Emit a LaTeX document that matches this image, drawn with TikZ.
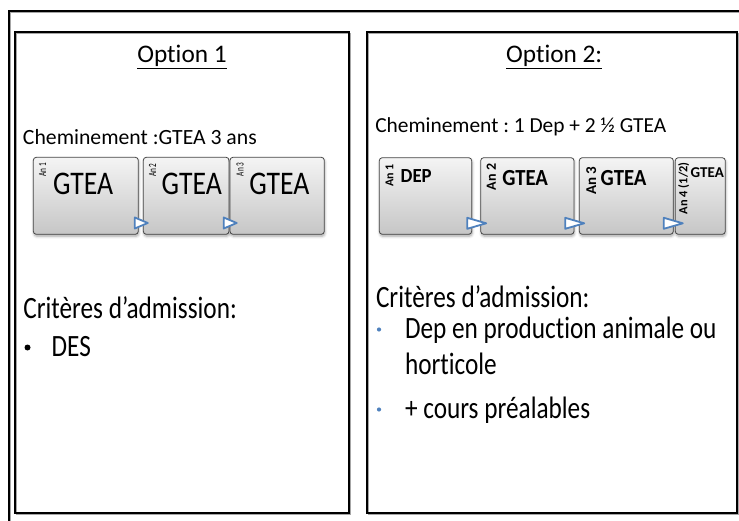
\documentclass[tikz,border=0pt]{standalone}
\usepackage{fontspec}
\setmainfont{Carlito}[Ligatures={NoCommon}]
\usepackage{graphicx}
\usetikzlibrary{shadows.blur}
\frenchspacing
\newcommand\fsz[1]{\fontsize{#1pt}{#1pt}\selectfont}
\newcommand\hsq[2]{\scalebox{#1}[1]{#2}}
\definecolor{triblue}{RGB}{79,129,189}
\definecolor{boxline}{RGB}{70,70,70}
\definecolor{boxtop}{RGB}{244,244,244}
\definecolor{boxbot}{RGB}{198,198,198}
\begin{document}
\frenchspacing
\begin{tikzpicture}[x=1pt,y=-1pt,
  txt/.style={inner sep=0pt, outer sep=0pt, text=black},
  panel/.style={draw=black, line width=1.8pt, inner sep=0pt, outer sep=0pt},
  panelshadow/.style={draw=black!35, line width=1.4pt},
  gbox/.style={draw=boxline, line width=0.8pt, rounded corners=3pt,
    top color=boxtop, bottom color=boxbot, inner sep=0pt, outer sep=0pt,
    blur shadow={shadow xshift=0.6pt, shadow yshift=-2pt, shadow blur radius=2.5pt, shadow opacity=35}},
  trimark/.style={draw=triblue, line width=1.8pt, fill=white, line join=round},
  trismall/.pic={\draw[trimark] (-6.5,-5.5) -- (6.5,0) -- (-6.5,5.5) -- cycle;},
  trilarge/.pic={\draw[trimark] (-9.5,-5.5) -- (9.5,0) -- (-9.5,5.5) -- cycle;},
  bigtxt/.style={txt, anchor=base west, font=\fsz{31}},
]
\useasboundingbox (0,0) rectangle (739,521);
\clip (0,0) rectangle (739,521);

% outer frame (runs off the right and bottom)
\draw[black!35, line width=1.2pt] (750,12.4) -- (10.1,12.4) -- (10.1,530);
\draw[black, line width=1.7pt] (750,11) -- (8.7,11) -- (8.7,530);

% panels
\draw[panelshadow] (16.3,33.6) rectangle (350,514.6);
\draw[panelshadow] (368.6,33.6) rectangle (738.3,514.6);
\node[panel, minimum width=333.7pt, minimum height=481pt] (p1) at (181.85,272.8) {};
\node[panel, minimum width=369.7pt, minimum height=481pt] (p2) at (552.15,272.8) {};

% titles
\node[txt, anchor=base, font=\fsz{25.3}] (opt1) at (182,63) {Option 1};
\node[txt, anchor=base, font=\fsz{25.3}] (opt2) at (554.2,63) {Option 2:};
\draw[line width=1.1pt] ([yshift=-5.8pt]opt1.base west) -- ([yshift=-5.8pt]opt1.base east);
\draw[line width=1.1pt] ([yshift=-5.8pt]opt2.base west) -- ([yshift=-5.8pt]opt2.base east);

% cheminement
\node[txt, anchor=base west, font=\fsz{21.7}] (chem1) at (23,145) {Cheminement :GTEA 3 ans};
\node[txt, anchor=base west, font=\fsz{21.4}] (chem2) at (375.3,132.5) {Cheminement : 1 Dep + 2 ½ GTEA};

% left boxes
\node[gbox, minimum width=105pt, minimum height=77pt] (b1) at (85.8,195.8) {};
\node[gbox, minimum width=85.7pt, minimum height=77pt] (b2) at (186.15,195.8) {};
\node[gbox, minimum width=94.3pt, minimum height=77pt] (b3) at (277.15,195.8) {};
\node[txt, rotate=90, font=\fsz{11}] (b1an) at (42.5,169.7) {\hsq{0.66}{An 1}};
\node[txt, rotate=90, font=\fsz{11}] (b2an) at (152.5,170) {\hsq{0.66}{An 2}};
\node[txt, rotate=90, font=\fsz{11}] (b3an) at (240,169.5) {\hsq{0.66}{An 3}};
\node[txt, anchor=base west, font=\fsz{33}] (b1t) at (53,195) {\hsq{0.84}{GTEA}};
\node[txt, anchor=base west, font=\fsz{33}] (b2t) at (161.7,195) {\hsq{0.84}{GTEA}};
\node[txt, anchor=base west, font=\fsz{33}] (b3t) at (249.3,195) {\hsq{0.84}{GTEA}};
\pic at (141.3,223) {trismall};
\pic at (230.2,223) {trismall};

% right boxes
\node[gbox, minimum width=92.4pt, minimum height=76.6pt] (r1) at (425.5,196) {};
\node[gbox, minimum width=93.3pt, minimum height=76.6pt] (r2) at (527.35,196) {};
\node[gbox, minimum width=94pt, minimum height=76.6pt] (r3) at (626.3,196) {};
\node[gbox, minimum width=50pt, minimum height=76.6pt] (r4) at (700.3,196) {};
\node[txt, rotate=90, font=\fsz{12}\bfseries] (r1an) at (389.5,175.7) {An 1};
\node[txt, rotate=90, font=\fsz{14}\bfseries] (r2an) at (491.3,177) {An 2};
\node[txt, rotate=90, font=\fsz{15}\bfseries] (r3an) at (591.3,180.5) {An 3};
\node[txt, rotate=90, font=\fsz{12.4}\bfseries] (r4an) at (683.8,188.3) {An 4 (1/2)};
\node[txt, anchor=base west, font=\fsz{20}\bfseries] (r1t) at (400.7,182.7) {\hsq{0.94}{DEP}};
\node[txt, anchor=base west, font=\fsz{23}\bfseries] (r2t) at (502.3,185.7) {\hsq{0.9}{GTEA}};
\node[txt, anchor=base west, font=\fsz{23}\bfseries] (r3t) at (600.7,185.7) {\hsq{0.9}{GTEA}};
\node[txt, anchor=base west, font=\fsz{15}\bfseries] (r4t) at (690.7,177.3) {GTEA};
\pic at (476.7,223.3) {trilarge};
\pic at (574.7,223.3) {trilarge};
\pic at (673.3,223.3) {trilarge};

% criteria left
\node[bigtxt] (crit1) at (23.3,318.3) {\hsq{0.815}{Critères d’admission:}};
\node[circle, fill=black, minimum size=6pt, inner sep=0pt] (bul1) at (27.5,347.5) {};
\node[bigtxt] (des) at (51.7,356) {\hsq{0.815}{DES}};

% criteria right
\node[bigtxt] (crit2) at (376,307.5) {\hsq{0.815}{Critères d’admission:}};
\node[circle, fill=triblue, minimum size=4.2pt, inner sep=0pt] (bul2) at (379,329.5) {};
\node[bigtxt] (dep) at (405,338.5) {\hsq{0.815}{Dep en production animale ou}};
\node[bigtxt] (hort) at (405,374.5) {\hsq{0.815}{horticole}};
\node[circle, fill=triblue, minimum size=4.2pt, inner sep=0pt] (bul3) at (379,409.5) {};
\node[bigtxt] (cours) at (405,418) {\hsq{0.815}{+ cours préalables}};
\end{tikzpicture}
\end{document}
